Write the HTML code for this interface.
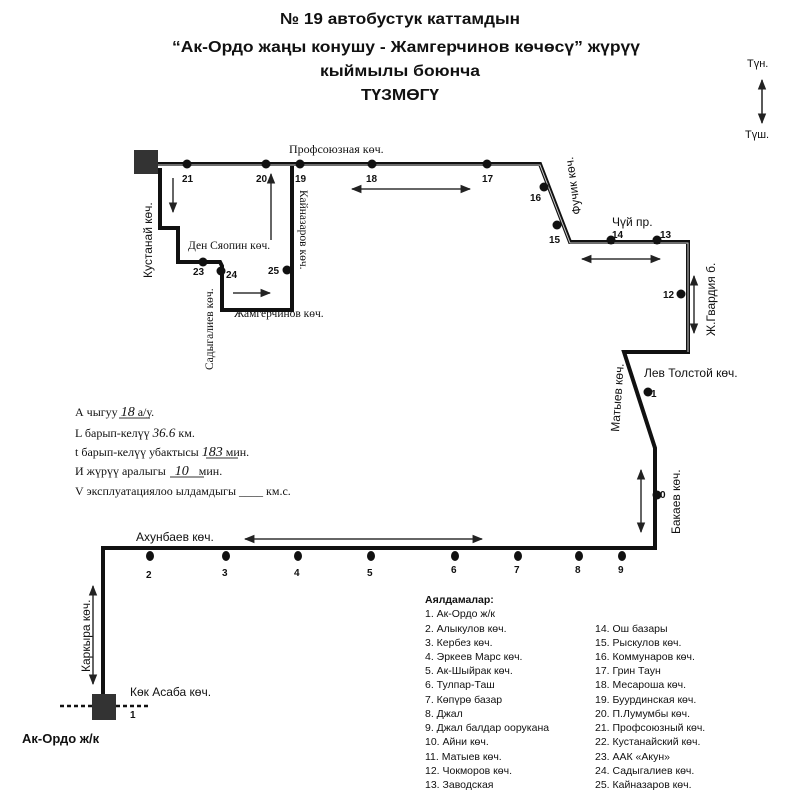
<!DOCTYPE html>
<html><head><meta charset="utf-8"><style>
body{margin:0;background:#fff}
svg{display:block}
text{font-family:"Liberation Sans",sans-serif;fill:#111}
text.s,.s text{font-family:"Liberation Serif",serif}
.t{font-weight:bold;font-size:16px}
.l{font-size:10.5px}
.n{font-size:10px;font-weight:bold}
</style></head><body>
<svg width="800" height="810" viewBox="0 0 800 810" xmlns="http://www.w3.org/2000/svg">
<defs>
<marker id="a" viewBox="0 0 10 10" refX="9" refY="5" markerWidth="7" markerHeight="7" orient="auto-start-reverse"><path d="M0,1 L10,5 L0,9 z" fill="#222"/></marker>
</defs>
<text class="t" x="400" y="24" text-anchor="middle" textLength="240" lengthAdjust="spacingAndGlyphs">№ 19 автобустук каттамдын</text>
<text class="t" x="406" y="52" text-anchor="middle" textLength="468" lengthAdjust="spacingAndGlyphs">“Ак-Ордо жаңы конушу - Жамгерчинов көчөсү” жүрүү</text>
<text class="t" x="400" y="76" text-anchor="middle" textLength="160" lengthAdjust="spacingAndGlyphs">кыймылы боюнча</text>
<text class="t" x="400" y="100" text-anchor="middle" textLength="78" lengthAdjust="spacingAndGlyphs">ТҮЗМӨГҮ</text>
<text x="747" y="67" font-size="11">Түн.</text>
<text x="745" y="138" font-size="11">Түш.</text>
<line x1="762" y1="80" x2="762" y2="123" stroke="#222" stroke-width="1.5" marker-start="url(#a)" marker-end="url(#a)"/>

<g fill="none" stroke="#111" stroke-width="4" stroke-linejoin="miter">
<polyline points="157,164 540,164 570,242 688,242 688,352 624,352 655,448 655,548 103,548 103,700"/>
<polyline points="160,168 160,228 178,228 178,262 220,262 222,266 222,310 292,310 292,164"/>
</g>
<g fill="none" stroke="#ccc" stroke-width="1">
<polyline points="157,165 540,165 570,243 688,243 688,352"/>
</g>
<rect x="134" y="150" width="24" height="24" fill="#333"/>
<rect x="92" y="694" width="24" height="26" fill="#333"/>
<line x1="60" y1="706" x2="92" y2="706" stroke="#111" stroke-width="2.5" stroke-dasharray="4,3"/>
<line x1="116" y1="706" x2="150" y2="706" stroke="#111" stroke-width="2.5" stroke-dasharray="4,3"/>

<g fill="#111">
<circle cx="187" cy="164" r="4.5"/><circle cx="266" cy="164" r="4.5"/><circle cx="300" cy="164" r="4.5"/>
<circle cx="372" cy="164" r="4.5"/><circle cx="487" cy="164" r="4.5"/><circle cx="544" cy="187" r="4.5"/>
<circle cx="557" cy="225" r="4.5"/><circle cx="611" cy="240" r="4.5"/><circle cx="657" cy="240" r="4.5"/>
<circle cx="681" cy="294" r="4.5"/><circle cx="648" cy="392" r="4.5"/><circle cx="657" cy="495" r="4.5"/>
<circle cx="203" cy="262" r="4.5"/><circle cx="221" cy="271" r="4.5"/><circle cx="287" cy="270" r="4.5"/>
<ellipse cx="622" cy="556" rx="4" ry="5"/><ellipse cx="579" cy="556" rx="4" ry="5"/><ellipse cx="518" cy="556" rx="4" ry="5"/>
<ellipse cx="455" cy="556" rx="4" ry="5"/><ellipse cx="371" cy="556" rx="4" ry="5"/><ellipse cx="298" cy="556" rx="4" ry="5"/>
<ellipse cx="226" cy="556" rx="4" ry="5"/><ellipse cx="150" cy="556" rx="4" ry="5"/>
</g>
<g class="n">
<text x="182" y="182" class="n">21</text><text x="256" y="182" class="n">20</text><text x="295" y="182" class="n">19</text>
<text x="366" y="182" class="n">18</text><text x="482" y="182" class="n">17</text><text x="530" y="201" class="n">16</text>
<text x="549" y="243" class="n">15</text><text x="612" y="238" class="n">14</text><text x="660" y="238" class="n">13</text>
<text x="663" y="298" class="n">12</text><text x="651" y="397" class="n">1</text><text x="660" y="498" class="n">0</text>
<text x="193" y="275" class="n">23</text><text x="226" y="278" class="n">24</text><text x="268" y="274" class="n">25</text>
<text x="618" y="573" class="n">9</text><text x="575" y="573" class="n">8</text><text x="514" y="573" class="n">7</text>
<text x="451" y="573" class="n">6</text><text x="367" y="576" class="n">5</text><text x="294" y="576" class="n">4</text>
<text x="222" y="576" class="n">3</text><text x="146" y="578" class="n">2</text><text x="130" y="718" class="n">1</text>
</g>

<g stroke="#333" stroke-width="1.5" fill="none">
<line x1="352" y1="189" x2="470" y2="189" marker-start="url(#a)" marker-end="url(#a)"/>
<line x1="582" y1="259" x2="660" y2="259" marker-start="url(#a)" marker-end="url(#a)"/>
<line x1="694" y1="276" x2="694" y2="333" marker-start="url(#a)" marker-end="url(#a)"/>
<line x1="641" y1="470" x2="641" y2="532" marker-start="url(#a)" marker-end="url(#a)"/>
<line x1="245" y1="539" x2="482" y2="539" marker-start="url(#a)" marker-end="url(#a)"/>
<line x1="93" y1="586" x2="93" y2="684" marker-start="url(#a)" marker-end="url(#a)"/>
<line x1="173" y1="178" x2="173" y2="212" marker-end="url(#a)"/>
<line x1="271" y1="240" x2="271" y2="174" marker-end="url(#a)"/>
<line x1="233" y1="293" x2="270" y2="293" marker-end="url(#a)"/>
</g>

<text class="s" x="289" y="153" font-size="12">Профсоюзная көч.</text>
<text x="612" y="226" font-size="12">Чүй пр.</text>
<text class="s" x="188" y="249" font-size="11.5">Ден Сяопин көч.</text>
<text class="s" x="234" y="317" font-size="11.5">Жамгерчинов көч.</text>
<text x="644" y="377" font-size="12">Лев Толстой көч.</text>
<text x="136" y="541" font-size="12">Ахунбаев көч.</text>
<text x="130" y="696" font-size="12">Көк Асаба көч.</text>
<text x="22" y="743" font-size="13" font-weight="bold">Ак-Ордо ж/к</text>
<text x="0" y="0" font-size="12" transform="translate(152,278) rotate(-90)">Кустанай көч.</text>
<text class="s" x="0" y="0" font-size="11.5" transform="translate(213,370) rotate(-90)">Садыгалиев көч.</text>
<text class="s" x="0" y="0" font-size="11.5" transform="translate(300,190) rotate(90)">Кайназаров көч.</text>
<text x="0" y="0" font-size="12" transform="translate(581,214) rotate(-98)">Фучик көч.</text>
<text x="0" y="0" font-size="12" transform="translate(715,336) rotate(-90)">Ж.Гвардия б.</text>
<text x="0" y="0" font-size="12" transform="translate(619,432) rotate(-86)">Матыев көч.</text>
<text x="0" y="0" font-size="12" transform="translate(680,534) rotate(-90)">Бакаев көч.</text>
<text x="0" y="0" font-size="12" transform="translate(90,672) rotate(-90)">Каркыра көч.</text>

<g class="s" font-size="12">
<text x="75" y="416">А чыгуу <tspan font-style="italic" font-size="14">18</tspan> а/у.</text>
<line x1="119" y1="418" x2="150" y2="418" stroke="#333"/>
<text x="75" y="437">L барып-келүү <tspan font-style="italic" font-size="13">36.6</tspan> км.</text>
<text x="75" y="456">t барып-келүү убактысы <tspan font-style="italic" font-size="14">183</tspan> мин.</text>
<line x1="206" y1="458" x2="238" y2="458" stroke="#333"/>
<text x="75" y="475">И жүрүү аралыгы <tspan font-style="italic" font-size="14" dx="6">10</tspan><tspan dx="10">мин.</tspan></text>
<line x1="170" y1="477" x2="204" y2="477" stroke="#333"/>
<text x="75" y="495">V эксплуатациялоо ылдамдыгы ____ км.с.</text>
</g>

<g class="l">
<text x="425" y="603" font-weight="bold">Аялдамалар:</text>
<text x="425" y="617">1. Ак-Ордо ж/к</text>
<text x="425" y="632">2. Алыкулов көч.</text>
<text x="425" y="646">3. Кербез көч.</text>
<text x="425" y="660">4. Эркеев Марс көч.</text>
<text x="425" y="674">5. Ак-Шыйрак көч.</text>
<text x="425" y="688">6. Тулпар-Таш</text>
<text x="425" y="703">7. Көпүрө базар</text>
<text x="425" y="717">8. Джал</text>
<text x="425" y="731">9. Джал балдар оорукана</text>
<text x="425" y="745">10. Айни көч.</text>
<text x="425" y="760">11. Матыев көч.</text>
<text x="425" y="774">12. Чокморов көч.</text>
<text x="425" y="788">13. Заводская</text>
<text x="595" y="632">14. Ош базары</text>
<text x="595" y="646">15. Рыскулов көч.</text>
<text x="595" y="660">16. Коммунаров көч.</text>
<text x="595" y="674">17. Грин Таун</text>
<text x="595" y="688">18. Месароша көч.</text>
<text x="595" y="703">19. Буурдинская көч.</text>
<text x="595" y="717">20. П.Лумумбы көч.</text>
<text x="595" y="731">21. Профсоюзный көч.</text>
<text x="595" y="745">22. Кустанайский көч.</text>
<text x="595" y="760">23. ААК «Акун»</text>
<text x="595" y="774">24. Садыгалиев көч.</text>
<text x="595" y="788">25. Кайназаров көч.</text>
</g>
</svg>
</body></html>
